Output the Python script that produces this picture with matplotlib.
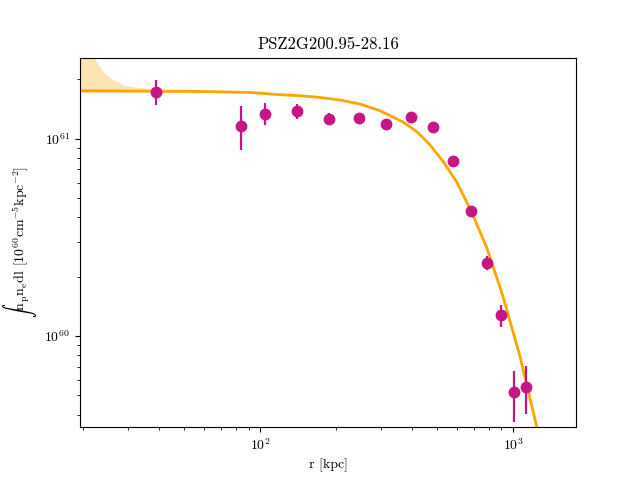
import numpy as np
import matplotlib
matplotlib.use("Agg")
import matplotlib.pyplot as plt

plt.rcParams['font.family'] = 'serif'
plt.rcParams['font.serif'] = ['cmr10']
plt.rcParams['mathtext.fontset'] = 'cm'
plt.rcParams['axes.unicode_minus'] = False
plt.rcParams['axes.formatter.use_mathtext'] = True

# datos medidos (radio en kpc, integral en cm^-5 kpc^-2)
r_datos = [38.8, 84.1, 104.7, 140, 187.5, 246, 314.6, 395, 483, 579, 682, 789, 899, 1012, 1125]
s_datos = [1.732e61, 1.160e61, 1.340e61, 1.382e61, 1.259e61, 1.278e61, 1.192e61, 1.289e61,
           1.147e61, 7.73e60, 4.30e60, 2.34e60, 1.274e60, 5.18e59, 5.49e59]
err_abajo = [2.44e60, 2.81e60, 1.72e60, 1.23e60, 7.1e59, 5.0e59, 4.5e59, 4.5e59,
             4.0e59, 2.5e59, 1.6e59, 1.8e59, 1.64e59, 1.51e59, 1.48e59]
err_arriba = [2.61e60, 3.11e60, 1.78e60, 1.24e60, 9.1e59, 5.0e59, 4.5e59, 4.5e59,
              4.0e59, 2.5e59, 1.6e59, 2.1e59, 1.66e59, 1.46e59, 1.56e59]

# modelo (curva naranja)
r_modelo = [19.4, 36.7, 57.9, 91.3, 119.9, 143.9, 172.6, 207, 248.4, 297.9, 346.7, 368.4,
            415.8, 469.5, 530.4, 598.6, 682, 787, 913, 1066, 1241, 1340]
s_modelo = [1.753e61, 1.745e61, 1.738e61, 1.718e61, 1.673e61, 1.653e61, 1.62e61, 1.572e61,
            1.50e61, 1.387e61, 1.263e61, 1.213e61, 1.089e61, 9.32e60, 7.64e60, 6.05e60,
            4.31e60, 2.81e60, 1.583e60, 7.85e59, 3.47e59, 2.2e59]

# banda de incertidumbre del modelo
r_banda = [19.4, 21.9, 22.9, 23.96, 25.06, 26.2, 27.46, 29.2, 31.97, 35.02, 38.37, 45, 57.9]
banda_sup = [3.0e61, 2.64e61, 2.375e61, 2.196e61, 2.07e61, 1.993e61, 1.94e61, 1.865e61,
             1.83e61, 1.809e61, 1.788e61, 1.77e61, 1.755e61]
banda_inf = [1.72e61, 1.72e61, 1.72e61, 1.72e61, 1.72e61, 1.72e61, 1.72e61, 1.72e61,
             1.72e61, 1.72e61, 1.715e61, 1.712e61, 1.708e61]

fig, ax = plt.subplots(figsize=(6.4, 4.8), dpi=100)

ax.fill_between(r_banda, banda_inf, banda_sup, color='orange', alpha=0.3, lw=0)
ax.plot(r_modelo, s_modelo, color='orange', lw=2)
ax.errorbar(r_datos, s_datos, yerr=[err_abajo, err_arriba], fmt='o', color='mediumvioletred',
            ms=7.5, elinewidth=1.6, capsize=0)

ax.set_xscale('log')
ax.set_yscale('log')
ax.set_xlim(19.4, 1774)
ax.set_ylim(3.45e59, 2.58e61)

ax.set_title('PSZ2G200.95-28.16')
ax.set_xlabel('r [kpc]')
ax.set_ylabel(r'$\int \mathrm{n_p n_e dl}$ [$10^{60}\mathrm{cm^{-5}kpc^{-2}}$]')

fig.savefig('out.png', dpi=100)
